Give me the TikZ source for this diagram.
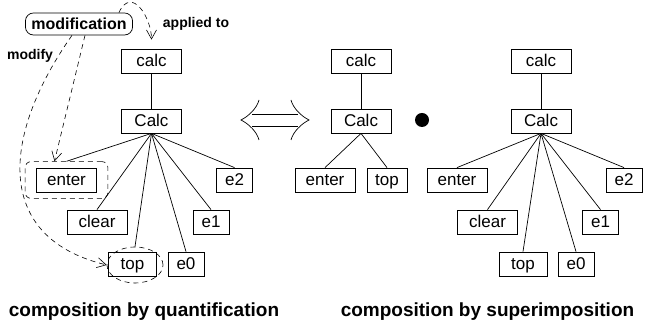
\documentclass[tikz,border=0pt]{standalone}
\usepackage{fontspec}
\setmainfont{Liberation Sans}
\usetikzlibrary{shapes, arrows.meta, fit}

\begin{document}
\begin{tikzpicture}[x=1pt, y=1pt, line width=0.7pt,
  box/.style={draw, line width=0.8pt, inner sep=0pt, minimum height=24pt, minimum width=60pt,
    text height=12pt, text depth=1pt, font=\fontsize{17}{20}\selectfont},
  sbox/.style={box, minimum width=36pt},
  mbox/.style={box, minimum width=48pt},
  lbl/.style={font=\fontsize{14}{17}\selectfont\bfseries},
  caption/.style={anchor=base, font=\fontsize{19}{22}\selectfont\bfseries},
  dsh/.style={dash pattern=on 5pt off 4pt, line width=0.6pt},
  dsharrow/.style={dsh, -{Straight Barb[length=9pt, width=10pt]}}]
\useasboundingbox (0, 0) rectangle (645, 328);

% quantification
\node[box] (calc1) at (151.5, 267) {calc};
\node[box] (Calc1) at (151.5, 207) {Calc};
\node[box] (enter1) at (66.5, 148) {enter};
\node[sbox] (e21) at (234.5, 148) {e2};
\node[box] (clear1) at (97, 106) {clear};
\node[sbox] (e11) at (211, 106) {e1};
\node[mbox] (top1) at (132.5, 64) {top};
\node[sbox] (e01) at (186, 64) {e0};

\node[draw, dsh, rounded corners=6pt, fit=(enter1), inner xsep=11pt, inner ysep=6pt] (enterbox) {};
\node[draw, dsh, ellipse, minimum width=56pt, minimum height=36pt, inner sep=0pt] (topring) at (135, 63) {};

\node[draw, rounded corners=8pt, inner xsep=6pt, inner ysep=0pt, minimum height=22pt,
  font=\fontsize{16}{19}\selectfont\bfseries] (modification) at (79, 304) {modification};
\node[lbl] (applied) at (196, 304) {applied to};
\node[lbl] (modify) at (30, 272) {modify};

\draw (calc1) -- (Calc1);
\draw (Calc1.south) -- (enterbox.north);
\draw (Calc1.south) -- (clear1.north);
\draw (Calc1.south) -- (topring.north);
\draw (Calc1.south) -- (e01.north);
\draw (Calc1.south) -- (e11.north);
\draw (Calc1.south) -- (e21.north);

\draw[dsharrow, shorten >=9pt] ([xshift=-14pt]modification.north east) to[out=65, in=90, looseness=1.6] (calc1.north);
\draw[dsharrow] ([xshift=6pt]modification.south) -- ([xshift=-12pt]enterbox.north);
\draw[dsharrow] ([xshift=-7pt]modification.south) .. controls (0, 190) and (-5, 90) .. (topring.west);

% equivalence
\coordinate (eqL) at (241, 208);
\coordinate (eqR) at (309, 208);
\draw (259, 228) .. controls (257, 220) and (249, 212) .. (eqL) .. controls (249, 204) and (257, 196) .. (259, 188);
\draw (291, 228) .. controls (293, 220) and (301, 212) .. (eqR) .. controls (301, 204) and (293, 196) .. (291, 188);
\draw (252, 214) -- (298, 214);
\draw (252, 202) -- (298, 202);

% superimposition
\node[box] (calc2) at (361, 267) {calc};
\node[box] (Calc2) at (361, 207) {Calc};
\node[box] (enter2) at (325, 148) {enter};
\node[box, minimum width=40pt] (top2) at (387, 148) {top};
\draw (calc2) -- (Calc2);
\draw (Calc2.south) -- (enter2.north);
\draw (Calc2.south) -- (top2.north);

\node[circle, fill, inner sep=0pt, minimum size=14pt] (dot) at (422, 208) {};

\node[box] (calc3) at (541, 267) {calc};
\node[box] (Calc3) at (541, 207) {Calc};
\node[box] (enter3) at (457, 148) {enter};
\node[sbox] (e23) at (624, 148) {e2};
\node[box] (clear3) at (487.5, 106) {clear};
\node[sbox] (e13) at (600.5, 106) {e1};
\node[mbox] (top3) at (523, 64) {top};
\node[sbox] (e03) at (576, 64) {e0};
\draw (calc3) -- (Calc3);
\draw (Calc3.south) -- (enter3.north);
\draw (Calc3.south) -- (clear3.north);
\draw (Calc3.south) -- (top3.north);
\draw (Calc3.south) -- (e03.north);
\draw (Calc3.south) -- (e13.north);
\draw (Calc3.south) -- (e23.north);

\node[caption] (capquant) at (144, 11) {composition by quantification};
\node[caption] (capsuper) at (487.5, 11) {composition by superimposition};
\end{tikzpicture}
\end{document}
